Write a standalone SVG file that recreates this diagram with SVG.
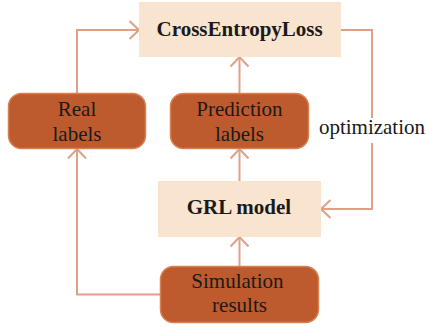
<svg xmlns="http://www.w3.org/2000/svg" width="426" height="327" viewBox="0 0 426 327">
  <style>
    .box { fill: #F9E4CF; }
    .step { fill: #BD5B2E; stroke: #D98050; stroke-width: 1.5; }
    .conn { fill: none; stroke: #E0A085; stroke-width: 2; }
  </style>
  <defs>
    <marker id="chev" viewBox="0 0 12 20" refX="10.5" refY="10" markerWidth="12" markerHeight="20" markerUnits="userSpaceOnUse" orient="auto">
      <path d="M1,1 L10.5,10 L1,19" fill="none" stroke="#E0A085" stroke-width="2"/>
    </marker>
  </defs>

  <!-- labels are left-aligned at precomputed offsets (Times metrics, 21px) -->
  <g id="connectors">
    <path class="conn" d="M77,93 V30 H139" marker-end="url(#chev)"/>
    <path class="conn" d="M239.5,93 V57" marker-end="url(#chev)"/>
    <path class="conn" d="M341,30 H372 V118"/>
    <path class="conn" d="M372,143 V209 H321" marker-end="url(#chev)"/>
    <path class="conn" d="M239.5,181 V149" marker-end="url(#chev)"/>
    <path class="conn" d="M239.5,266 V237" marker-end="url(#chev)"/>
    <path class="conn" d="M160,294.5 H77 V149" marker-end="url(#chev)"/>
    <text x="318.9" y="134" font-family="Liberation Serif" font-size="21" fill="#1a1a1a">optimization</text>
  </g>

  <g id="cross-entropy-loss">
    <rect class="box" x="139" y="2" width="202" height="55"/>
    <text x="156.6" y="36" font-family="Liberation Serif" font-size="21" font-weight="bold" fill="#1a1a1a">CrossEntropyLoss</text>
  </g>

  <g id="real-labels">
    <rect class="step" x="8.5" y="93.5" width="137" height="55" rx="13"/>
    <text x="57.8" y="116" font-family="Liberation Serif" font-size="21" fill="#1a1a1a">Real</text>
    <text x="52.5" y="141" font-family="Liberation Serif" font-size="21" fill="#1a1a1a">labels</text>
  </g>

  <g id="prediction-labels">
    <rect class="step" x="170.5" y="93.5" width="138" height="55" rx="13"/>
    <text x="196.3" y="116" font-family="Liberation Serif" font-size="21" fill="#1a1a1a">Prediction</text>
    <text x="215" y="141" font-family="Liberation Serif" font-size="21" fill="#1a1a1a">labels</text>
  </g>

  <g id="grl-model">
    <rect class="box" x="158" y="181" width="163" height="56"/>
    <text x="186.7" y="214" font-family="Liberation Serif" font-size="21" font-weight="bold" fill="#1a1a1a">GRL model</text>
  </g>

  <g id="simulation-results">
    <rect class="step" x="160.5" y="266.5" width="158" height="56" rx="13"/>
    <text x="191.3" y="288" font-family="Liberation Serif" font-size="21" fill="#1a1a1a">Simulation</text>
    <text x="212.1" y="312" font-family="Liberation Serif" font-size="21" fill="#1a1a1a">results</text>
  </g>
</svg>
